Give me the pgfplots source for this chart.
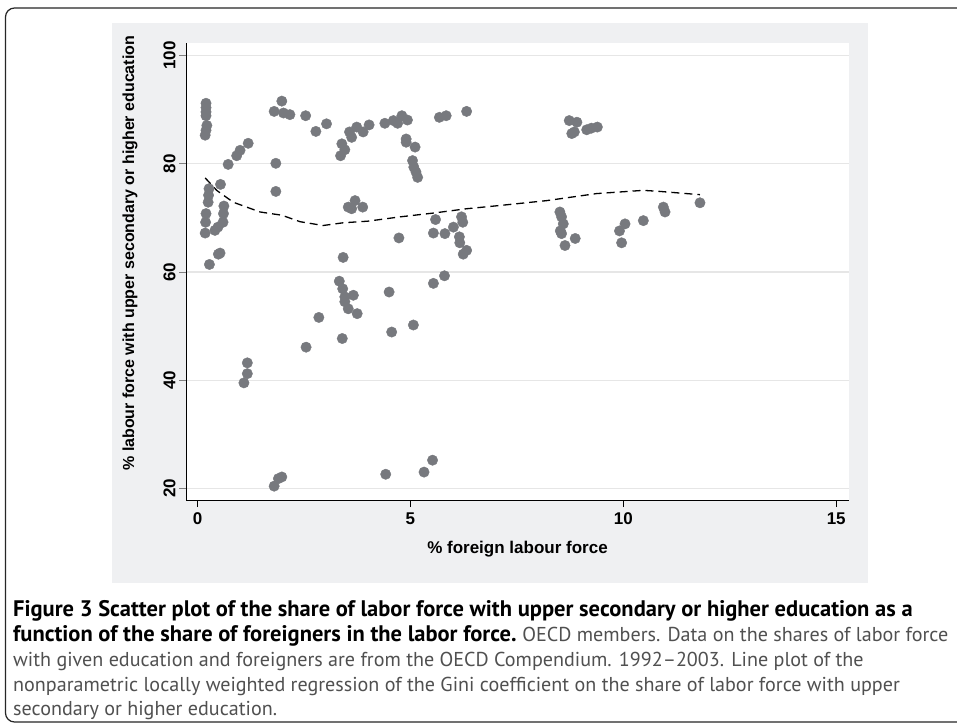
\documentclass[border=0pt]{standalone}
\usepackage{pgfplots}
\pgfplotsset{compat=1.18}
\usepackage{fontspec}
\setmainfont{Liberation Sans}
\newfontfamily\capfont{PT Sans}
\newfontfamily\statafont{Liberation Sans}
\definecolor{graybg}{RGB}{239,240,242}
\definecolor{mk}{RGB}{119,121,126}
\definecolor{gridc}{RGB}{230,230,230}
\definecolor{capgray}{RGB}{80,80,80}
\begin{document}
\begin{tikzpicture}[x=1pt,y=1pt]
\useasboundingbox (0,0) rectangle (957,725);
\fill[white] (0,0) rectangle (957,725);
\draw[line width=1.2pt, rounded corners=9pt, black!85] (1000,717) -- (5.5,717) -- (5.5,3) -- (1000,3);
\fill[graybg] (112,142) rectangle (868,702);
\begin{axis}[
  at={(186pt,225pt)}, anchor=south west,
  scale only axis, width=663pt, height=457pt,
  xmin=-0.27, xmax=15.30, ymin=17.84, ymax=102.35,
  axis background/.style={fill=white},
  axis x line*=bottom, axis y line*=left,
  axis line style={black, line width=0.9pt},
  xtick={0,5,10,15}, ytick={20,40,60,80,100},
  tick align=outside,
  major tick length=7pt,
  xtick style={black, line width=0.9pt},
  ytick style={gray, line width=0.9pt},
  ymajorgrids, grid style={gridc, line width=1.3pt},
  ticklabel style={font=\fontsize{17}{20}\statafont\bfseries},
  /pgf/number format/assume math mode=true,
  xticklabel style={yshift=-2pt},
  yticklabel style={rotate=90, anchor=south, xshift=0pt},
  xlabel={\% foreign labour force},
  ylabel={\% labour force with upper secondary or higher education},
  xlabel style={font=\fontsize{17}{20}\statafont\bfseries, at={(axis description cs:0.5,-0.107)}, anchor=center},
  ylabel style={font=\fontsize{16}{19}\statafont\bfseries, at={(axis description cs:-0.0845,0.54)}, anchor=center},
  clip=false,
]
\addplot[only marks, mark=*, mark size=5.2pt, mk, mark options={draw=mk, fill=mk}] coordinates {
(0.20,91.2) (0.20,90.4) (0.20,89.6) (0.20,88.9) (0.22,87.1) (0.20,86.2) (0.18,85.3)
(1.80,89.7) (1.98,91.6) (2.02,89.4) (2.17,89.1) (2.54,88.9) (2.78,86.0) (3.03,87.4)
(1.19,83.8) (1.00,82.5) (0.92,81.5) (0.72,79.9) (1.84,80.1) (1.84,74.9) (0.54,76.2)
(0.27,75.4) (0.26,74.2) (0.25,72.9)
(0.62,72.2) (0.61,70.8) (0.60,69.2)
(0.20,70.8) (0.19,69.2) (0.18,67.2) (0.41,67.7) (0.48,68.3)
(0.49,63.3) (0.53,63.5) (0.28,61.4)
(3.42,62.7) (3.33,58.3) (3.41,56.9) (3.46,55.4) (3.46,54.5) (3.66,55.7) (3.54,53.2) (3.75,52.3)
(2.85,51.6) (2.55,46.1) (3.40,47.7)
(1.17,43.2) (1.17,41.2) (1.09,39.5)
(1.80,20.4) (1.90,21.8) (1.98,22.1)
(3.39,83.7) (3.46,82.6) (3.36,81.5)
(3.57,85.9) (3.62,84.9) (3.74,86.8) (3.89,85.9) (4.03,87.2)
(4.40,87.5) (4.60,88.0) (4.70,87.5) (4.80,88.9) (4.93,88.1)
(4.90,84.6) (4.90,84.0) (5.11,83.1)
(5.05,80.6) (5.08,79.4) (5.13,78.5) (5.17,77.5)
(5.68,88.6) (5.84,88.9) (6.32,89.7)
(3.54,72.0) (3.70,73.2) (3.88,72.0) (3.62,71.7)
(4.73,66.3)
(5.59,69.7) (5.54,67.2) (5.81,67.1) (6.01,68.3) (6.20,70.2) (6.23,69.2)
(6.15,66.5) (6.16,65.4) (6.32,64.0) (6.24,63.3)
(4.50,56.3) (5.54,57.9) (5.80,59.3) (4.56,48.9) (5.07,50.2)
(4.42,22.6) (5.32,23.0) (5.52,25.2)
(8.73,88.0) (8.91,87.7) (8.79,85.6) (8.85,85.9) (9.14,86.3) (9.25,86.6) (9.39,86.8)
(8.51,71.1) (8.55,70.2) (8.59,68.9) (8.55,67.1) (8.52,67.6) (8.63,64.9) (8.87,66.2)
(9.91,67.6) (10.04,68.9) (9.96,65.4) (10.47,69.5) (10.94,72.0) (10.98,71.1) (11.80,72.8)
};
\addplot[black, line width=1.3pt, dash pattern=on 8pt off 5pt] coordinates {
(0.18,77.4) (0.45,75.1) (0.84,72.9) (1.47,71.1) (1.98,70.5) (2.41,69.3) (2.95,68.6) (3.42,69.1) (4.0,69.4) (4.76,70.2) (5.54,70.9) (6.32,71.7) (7.10,72.3) (8.20,73.2) (9.37,74.5) (10.47,75.1) (10.86,74.9) (11.80,74.3)
};
\end{axis}
\begin{scope}[every node/.style={anchor=base west, inner sep=0pt}]
\node[font=\fontsize{22.5}{24}\capfont\bfseries] at (13,109) {Figure 3 Scatter plot of the share of labor force with upper secondary or higher education as a};
\node at (13,84) {\fontsize{22.5}{24}\capfont\bfseries function of the share of foreigners in the labor force.\ \fontsize{20.1}{24}\mdseries\color{capgray}OECD members. Data on the shares of labor force};
\node[text=capgray, font=\fontsize{20.1}{24}\capfont] at (13,59) {with given education and foreigners are from the OECD Compendium. 1992–2003. Line plot of the};
\node[text=capgray, font=\fontsize{20.1}{24}\capfont] at (13,34) {nonparametric locally weighted regression of the Gini coefficient on the share of labor force with upper};
\node[text=capgray, font=\fontsize{20.1}{24}\capfont] at (13,10) {secondary or higher education.};
\end{scope}
\end{tikzpicture}
\end{document}
